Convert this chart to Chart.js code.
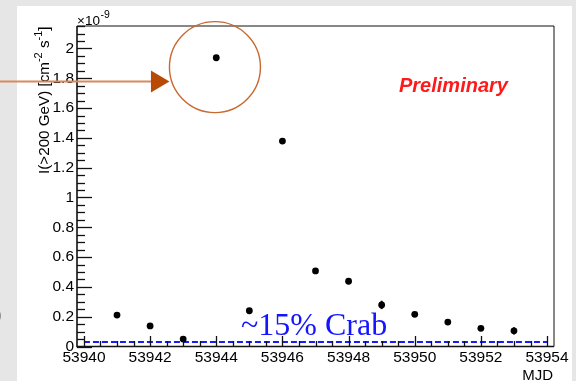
<!DOCTYPE html>
<html>
<head>
<meta charset="utf-8">
<script src="https://cdn.jsdelivr.net/npm/chart.js@4/dist/chart.umd.min.js"></script>
<style>
  html, body { margin: 0; padding: 0; background: #e6e6e6; }
  #sheet { position: absolute; left: 17px; top: 6px; width: 555px; height: 375px; background: #ffffff; }
  #c { position: absolute; left: 0; top: 0; }
</style>
</head>
<body>
<div id="sheet"></div>
<canvas id="c" width="576" height="381"></canvas>
<script>
// Nightly integral flux above 200 GeV, in units of 1e-9 cm^-2 s^-1
const mjd     = [53941, 53942, 53943, 53944, 53945, 53946, 53947, 53948, 53949, 53950, 53951, 53952, 53953];
const flux    = [0.211, 0.138, 0.050, 1.938, 0.240, 1.379, 0.507, 0.438, 0.279, 0.216, 0.164, 0.122, 0.105];
const fluxErr = [0.012, 0.012, 0.010, 0.015, 0.012, 0.018, 0.014, 0.014, 0.028, 0.013, 0.012, 0.012, 0.024];

// Reference level: ~15% of the Crab flux
const crabLevel = 0.03;
const crabSpan  = [53940, 53954];

const xTicks = [53940, 53942, 53944, 53946, 53948, 53950, 53952, 53954];
const yTicks = [0, 0.2, 0.4, 0.6, 0.8, 1, 1.2, 1.4, 1.6, 1.8, 2];

const SANS = '"Liberation Sans", Arial, Helvetica, sans-serif';

const decorations = {
  id: 'decorations',
  beforeDatasetsDraw(chart) {
    const ctx = chart.ctx, xs = chart.scales.x, ys = chart.scales.y;
    ctx.save();
    ctx.strokeStyle = '#000';
    ctx.lineWidth = 2;
    mjd.forEach((m, i) => {
      const px = xs.getPixelForValue(m);
      const y1 = ys.getPixelForValue(flux[i] + fluxErr[i]);
      const y2 = ys.getPixelForValue(flux[i] - fluxErr[i]);
      ctx.beginPath(); ctx.moveTo(px, y1); ctx.lineTo(px, y2); ctx.stroke();
    });
    ctx.restore();
  },
  afterDatasetsDraw(chart) {
    const ctx = chart.ctx, xs = chart.scales.x, ys = chart.scales.y;
    const {left, right, top, bottom} = chart.chartArea;
    ctx.save();
    ctx.strokeStyle = '#111';
    // frame
    ctx.lineWidth = 1;
    ctx.beginPath();
    ctx.moveTo(left, top); ctx.lineTo(right, top); ctx.lineTo(right, bottom);
    ctx.stroke();
    ctx.lineWidth = 1.6;
    ctx.beginPath();
    ctx.moveTo(left, top); ctx.lineTo(left, bottom); ctx.lineTo(right, bottom);
    ctx.stroke();
    // inward tick marks on the y axis: majors every 0.2, minors every 0.05
    ctx.lineWidth = 1.3;
    for (let i = 0; i * 0.05 <= ys.max + 1e-9; i++) {
      const py = Math.round(ys.getPixelForValue(i * 0.05)) + 0.5;
      const len = (i % 4 === 0) ? 15 : 8;
      ctx.beginPath(); ctx.moveTo(left, py); ctx.lineTo(left + len, py); ctx.stroke();
    }
    // inward tick marks on the x axis: majors every 2 days, minors every half day
    for (let i = 0; xTicks[0] + i * 0.5 <= xs.max + 1e-9; i++) {
      const px = Math.round(xs.getPixelForValue(xTicks[0] + i * 0.5)) + 0.5;
      const len = (i % 4 === 0) ? 10.5 : 5.5;
      ctx.beginPath(); ctx.moveTo(px, bottom); ctx.lineTo(px, bottom - len); ctx.stroke();
    }
    ctx.restore();
  },
  afterDraw(chart) {
    const ctx = chart.ctx, xs = chart.scales.x, ys = chart.scales.y;
    const {left, right, top, bottom} = chart.chartArea;
    ctx.save();

    // exponent of the y axis
    ctx.fillStyle = '#000';
    ctx.textBaseline = 'alphabetic';
    ctx.textAlign = 'left';
    ctx.font = '13.5px ' + SANS;
    ctx.fillText('\u00d710', left, top - 1);
    const w10 = ctx.measureText('\u00d710').width;
    ctx.font = '10.5px ' + SANS;
    ctx.fillText('-9', left + w10 + 0.5, top - 8);

    // y axis title, rotated, right-aligned to the top of the axis
    const tSize = 15.2, sSize = 11;
    const parts = [
      ['I(>200 GeV) [cm', tSize, 0],
      ['-2', sSize, -0.42 * tSize],
      [' s', tSize, 0],
      ['-1', sSize, -0.42 * tSize],
      [']', tSize, 0]
    ];
    let total = 0;
    parts.forEach(p => { ctx.font = p[1] + 'px ' + SANS; p.push(ctx.measureText(p[0]).width); total += p[3]; });
    ctx.translate(48.5, top + 0.5 + total);
    ctx.rotate(-Math.PI / 2);
    let cx = 0;
    parts.forEach(p => { ctx.font = p[1] + 'px ' + SANS; ctx.fillText(p[0], cx, p[2]); cx += p[3]; });
    ctx.setTransform(1, 0, 0, 1, 0, 0);

    // x axis title
    ctx.font = '15px ' + SANS;
    ctx.textAlign = 'right';
    ctx.fillText('MJD', right - 1, 380);

    // preliminary stamp
    ctx.font = 'italic bold 20px ' + SANS;
    ctx.fillStyle = '#ff1a1a';
    ctx.textAlign = 'left';
    ctx.fillText('Preliminary', 399, 92);

    // label of the reference level
    ctx.font = '32px "Liberation Serif", "Times New Roman", serif';
    ctx.fillStyle = '#1414ff';
    ctx.fillText('~15% Crab', 241, 335);

    // highlight around the brightest night
    const cxp = xs.getPixelForValue(53943.96), cyp = ys.getPixelForValue(1.875);
    ctx.strokeStyle = '#c8682e';
    ctx.lineWidth = 1.4;
    ctx.beginPath(); ctx.arc(cxp, cyp, 45.5, 0, Math.PI * 2); ctx.stroke();

    // pointer arrow
    const ay = ys.getPixelForValue(1.779);
    const tipX = cxp - 45.5;
    ctx.strokeStyle = '#d98a5c';
    ctx.lineWidth = 2;
    ctx.beginPath(); ctx.moveTo(0, ay); ctx.lineTo(tipX - 15, ay); ctx.stroke();
    ctx.fillStyle = '#b84a06';
    ctx.beginPath();
    ctx.moveTo(tipX, ay);
    ctx.lineTo(tipX - 18.5, ay - 11);
    ctx.lineTo(tipX - 18.5, ay + 11);
    ctx.closePath(); ctx.fill();

    // edge of a neighbouring bracket on the slide
    ctx.fillStyle = '#333';
    ctx.font = '24px ' + SANS;
    ctx.fillText(')', -6, 322);

    ctx.restore();
  }
};

new Chart(document.getElementById('c'), {
  type: 'scatter',
  data: {
    datasets: [
      {
        label: 'flux',
        data: mjd.map((m, i) => ({x: m, y: flux[i]})),
        backgroundColor: '#000',
        borderColor: '#000',
        pointRadius: 3.4,
        pointBorderWidth: 0,
        order: 1
      },
      {
        label: 'crab',
        type: 'line',
        data: crabSpan.map(m => ({x: m, y: crabLevel})),
        borderColor: '#1a1aff',
        borderWidth: 2,
        borderDash: [6, 3],
        pointRadius: 0,
        fill: false,
        order: 2
      }
    ]
  },
  options: {
    responsive: false,
    animation: false,
    devicePixelRatio: 1,
    layout: { padding: { top: 26, right: 22, left: 0, bottom: 0 } },
    plugins: { legend: { display: false }, tooltip: { enabled: false } },
    scales: {
      x: {
        type: 'linear',
        min: 53939.79,
        max: 53954.21,
        afterBuildTicks: s => { s.ticks = xTicks.map(v => ({value: v})); },
        afterFit: s => { s.height = 34.5; },
        grid: { display: false, drawTicks: false },
        border: { display: false },
        ticks: {
          autoSkip: false, maxRotation: 0, padding: 1.5, color: '#000',
          font: { family: SANS, size: 15.5 },
          callback: v => String(v)
        }
      },
      y: {
        type: 'linear',
        min: 0,
        max: 2.151,
        afterBuildTicks: s => { s.ticks = yTicks.map(v => ({value: v})); },
        afterFit: s => { s.width = 77; },
        grid: { display: false, drawTicks: false },
        border: { display: false },
        ticks: {
          autoSkip: false, padding: 3, color: '#000',
          font: { family: SANS, size: 15.5 },
          callback: v => String(parseFloat(Number(v).toFixed(1)))
        }
      }
    }
  },
  plugins: [decorations]
});
</script>
</body>
</html>
